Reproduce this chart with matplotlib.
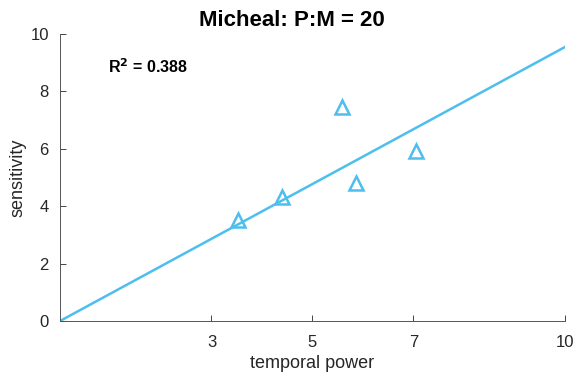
import numpy as np
import matplotlib
matplotlib.use("Agg")
import matplotlib.pyplot as plt

plt.rcParams['font.family'] = ['Liberation Sans', 'DejaVu Sans']

temporal_power = [3.52, 4.39, 5.59, 5.87, 7.05]
sensitivity = [3.52, 4.33, 7.47, 4.80, 5.93]
fit_slope = 0.955  # slope of the line through the origin
xticks = [3, 5, 7, 10]
yticks = [0, 2, 4, 6, 8, 10]
title = "Micheal: P:M = 20"
r2_text = "R$^\\mathbf{2}$ = 0.388"

color = '#4DBEEE'
axc = '#262626'

x = np.array(temporal_power)
y = np.array(sensitivity)

fig = plt.figure(figsize=(5.84, 3.79), dpi=100)
ax = fig.add_axes([0.1027, 0.153, 0.8647, 0.757])

xl = np.array([0, 10])
ax.plot(xl, fit_slope * xl, color=color, lw=1.8)
ax.plot(x, y, linestyle='none', marker='^', markersize=10, markerfacecolor='none',
        markeredgecolor=color, markeredgewidth=1.8)

ax.set_xlim(0, 10)
ax.set_ylim(0, 10)
ax.set_xticks(xticks)
ax.set_yticks(yticks)
ax.tick_params(direction='in', length=4, width=0.6, colors=axc, labelsize=12, pad=8)
ax.tick_params(axis='x', pad=10)
for s in ['top', 'right']:
    ax.spines[s].set_visible(False)
for s in ['left', 'bottom']:
    ax.spines[s].set_color('#555555')
    ax.spines[s].set_linewidth(0.7)

ax.set_xlabel("temporal power", fontsize=13, color=axc, labelpad=4)
ax.set_ylabel("sensitivity", fontsize=13, color=axc, labelpad=3)
fig.text(0.5, 0.947, title, fontsize=16, fontweight='bold', ha='center', va='center')
ax.text(0.96, 8.85, r2_text, fontsize=11.5, fontweight='bold', va='center', ha='left')

fig.savefig("out.png", dpi=100)
